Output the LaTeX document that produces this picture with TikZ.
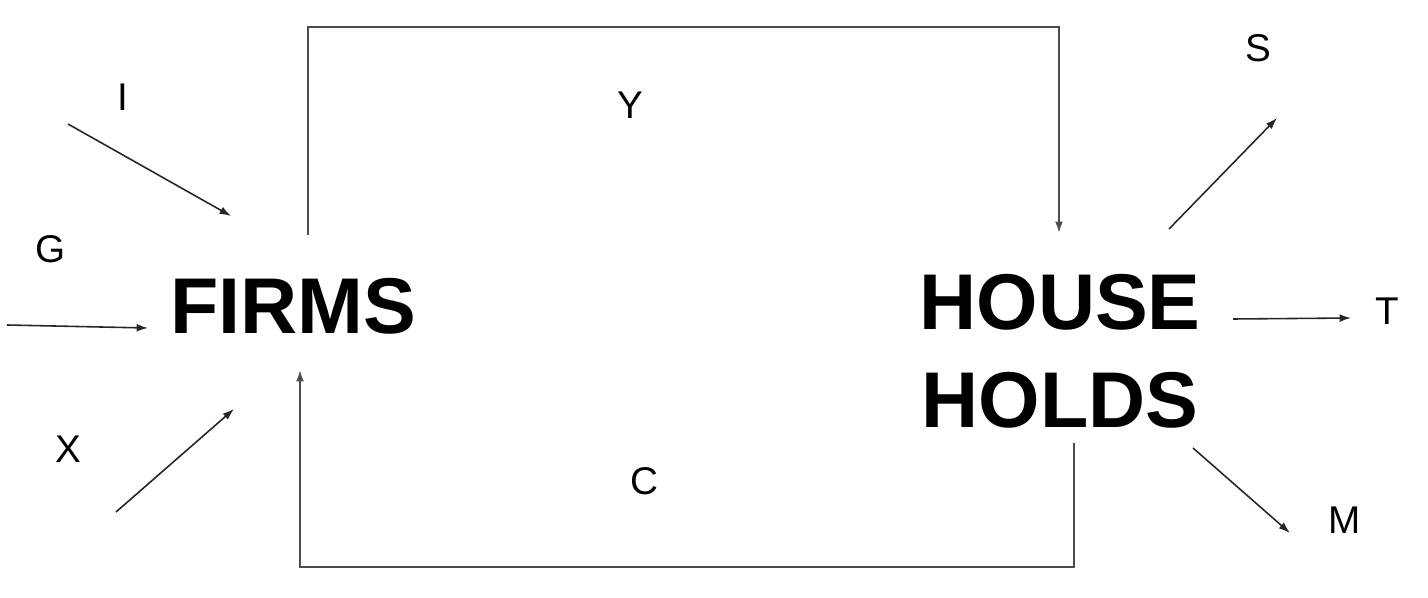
\documentclass[tikz,border=0pt]{standalone}
\usepackage{fontspec}
\setmainfont{Liberation Sans}
\usetikzlibrary{arrows.meta}

\begin{document}
\begin{tikzpicture}[x=0.02cm,y=-0.02cm]
            \tikzstyle{sector}=[inner sep=0pt, font=\fontsize{45}{54}\selectfont\bfseries]
            \tikzstyle{flowlabel}=[inner sep=0pt, font=\fontsize{22}{26}\selectfont]
            \tikzstyle{loop}=[line width=1.1pt, draw=black!70]
            \tikzstyle{leak}=[line width=0.9pt, draw=black!85, -{Latex[length=6.5pt,width=4.5pt]}]

            \useasboundingbox (0,0) rectangle (1428,598);

            % sectors
            \node[sector] (firms) at (293,306) {FIRMS};
            \node[sector] (house) at (1060,302) {HOUSE};
            \node[sector] (holds) at (1060,400) {HOLDS};

            % income loop corners
            \coordinate (yout) at (308,235);
            \coordinate (ytl) at (308,27);
            \coordinate (ytr) at (1059,27);
            \coordinate (yin) at (1059,233);
            % spending loop corners
            \coordinate (cout) at (1074,443);
            \coordinate (cbr) at (1074,567);
            \coordinate (cbl) at (300,567);
            \coordinate (cin) at (300,370);

            % loop labels
            \node[flowlabel] (ylab) at (630,105) {Y};
            \node[flowlabel] (clab) at (644,481) {C};

            % loop wires
            \draw[loop, -{Latex[length=6.5pt,width=4.5pt]}] (yout) -- (ytl) -- (ytr) -- (yin);
            \draw[loop, -{Latex[length=6.5pt,width=4.5pt]}] (cout) -- (cbr) -- (cbl) -- (cin);

            % injection labels
            \node[flowlabel] (ilab) at (123,97) {I};
            \node[flowlabel] (glab) at (51,249) {G};
            \node[flowlabel] (xlab) at (68,449) {X};
            % withdrawal labels
            \node[flowlabel] (slab) at (1258,48) {S};
            \node[flowlabel] (tlab) at (1387,311) {T};
            \node[flowlabel] (mlab) at (1345,520) {M};

            % injection ends
            \coordinate (iin1) at (68,124);
            \coordinate (iin2) at (231,216);
            \coordinate (gin1) at (7,325);
            \coordinate (gin2) at (148,328);
            \coordinate (xin1) at (116,512);
            \coordinate (xin2) at (234,409);
            % withdrawal ends
            \coordinate (sout1) at (1169,229);
            \coordinate (sout2) at (1277,118);
            \coordinate (tout1) at (1233,319);
            \coordinate (tout2) at (1351,318);
            \coordinate (mout1) at (1193,448);
            \coordinate (mout2) at (1290,533);

            % injection and withdrawal arrows
            \draw[leak] (iin1) -- (iin2);
            \draw[leak] (gin1) -- (gin2);
            \draw[leak] (xin1) -- (xin2);
            \draw[leak] (sout1) -- (sout2);
            \draw[leak] (tout1) -- (tout2);
            \draw[leak] (mout1) -- (mout2);
\end{tikzpicture}
\end{document}
